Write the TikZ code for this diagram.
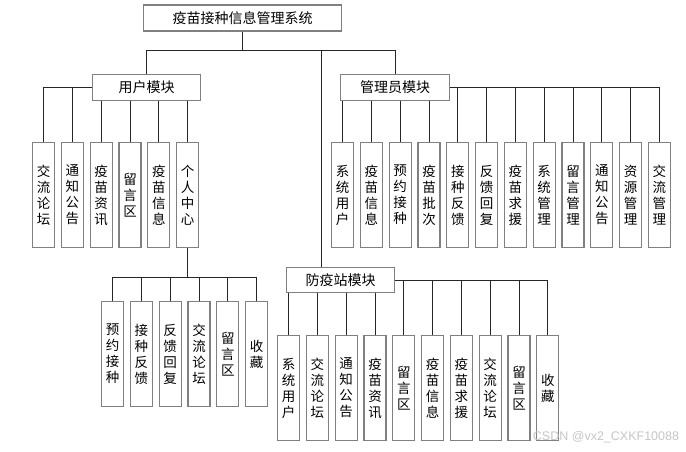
\documentclass[tikz,border=0pt]{standalone}
\usepackage{fontspec}
\setmainfont{Noto Sans CJK SC}
\newfontfamily\markfont{Liberation Sans}
\usetikzlibrary{positioning}

\tikzset{
  box/.style={draw=gray, line width=1.2pt, fill=white, inner sep=0pt},
  head/.style={box, minimum height=26pt, font=\fontsize{14}{16}\selectfont},
  leaf/.style={box, minimum width=22pt, minimum height=105pt, align=center, font=\fontsize{13.5}{16}\selectfont},
  link/.style={line width=0.9pt, black!85}
}

\begin{document}
\begin{tikzpicture}[x=1pt, y=-1pt, node distance=5.6pt]
\useasboundingbox (0,0) rectangle (686,451);

% top and modules
\node[head, minimum width=198pt] (sys) at (242.5,18) {疫苗接种信息管理系统};
\node[head, minimum width=108pt] (user) at (146.5,87.5) {用户模块};
\node[head, minimum width=109pt] (admin) at (395,87.5) {管理员模块};
\node[head, minimum width=108pt, minimum height=25pt] (zhan) at (340.5,280) {防疫站模块};
\coordinate (split) at (242.5,50);
\coordinate (drop) at (321,50);

% user leaves
\node[leaf, anchor=north west] (u1) at (32,142) {交\\流\\论\\坛};
\node[leaf, right=of u1] (u2) {通\\知\\公\\告};
\node[leaf, right=of u2] (u3) {疫\\苗\\资\\讯};
\node[leaf, right=of u3] (u4) {留\\言\\区};
\node[leaf, right=of u4] (u5) {疫\\苗\\信\\息};
\node[leaf, right=of u5] (u6) {个\\人\\中\\心};
\coordinate (pbus) at ([yshift=-29pt]u6.south);

% personal centre leaves
\node[leaf, anchor=north west] (p1) at (101,301) {预\\约\\接\\种};
\node[leaf, right=of p1] (p2) {接\\种\\反\\馈};
\node[leaf, right=of p2] (p3) {反\\馈\\回\\复};
\node[leaf, right=of p3] (p4) {交\\流\\论\\坛};
\node[leaf, right=of p4] (p5) {留\\言\\区};
\node[leaf, right=of p5] (p6) {收\\藏};

% admin leaves
\node[leaf, anchor=north west] (a1) at (331,142) {系\\统\\用\\户};
\node[leaf, right=of a1] (a2) {疫\\苗\\信\\息};
\node[leaf, right=of a2] (a3) {预\\约\\接\\种};
\node[leaf, right=of a3] (a4) {疫\\苗\\批\\次};
\node[leaf, right=of a4] (a5) {接\\种\\反\\馈};
\node[leaf, right=of a5] (a6) {反\\馈\\回\\复};
\node[leaf, right=of a6] (a7) {疫\\苗\\求\\援};
\node[leaf, right=of a7] (a8) {系\\统\\管\\理};
\node[leaf, right=of a8] (a9) {留\\言\\管\\理};
\node[leaf, right=of a9] (a10) {通\\知\\公\\告};
\node[leaf, right=of a10] (a11) {资\\源\\管\\理};
\node[leaf, right=of a11] (a12) {交\\流\\管\\理};

% station leaves
\node[leaf, anchor=north west] (z1) at (277,335) {系\\统\\用\\户};
\node[leaf, right=of z1] (z2) {交\\流\\论\\坛};
\node[leaf, right=of z2] (z3) {通\\知\\公\\告};
\node[leaf, right=of z3] (z4) {疫\\苗\\资\\讯};
\node[leaf, right=of z4] (z5) {留\\言\\区};
\node[leaf, right=of z5] (z6) {疫\\苗\\信\\息};
\node[leaf, right=of z6] (z7) {疫\\苗\\求\\援};
\node[leaf, right=of z7] (z8) {交\\流\\论\\坛};
\node[leaf, right=of z8] (z9) {留\\言\\区};
\node[leaf, right=of z9] (z10) {收\\藏};

% trunk
\draw[link] (sys) -- (split);
\draw[link] (split) -| (user.north);
\draw[link] (split) -| (admin.north);
\draw[link] (drop) -- (drop |- zhan.north);

% user links
\draw[link] (user.west) -| (u1.north);
\draw[link] (user.west) -| (u2.north);
\draw[link] (user.south -| u3.north) -- (u3.north);
\draw[link] (user.south -| u4.north) -- (u4.north);
\draw[link] (user.south -| u5.north) -- (u5.north);
\draw[link] (user.south -| u6.north) -- (u6.north);

% personal centre links
\draw[link] (u6.south) -- (pbus);
\draw[link] (pbus) -| (p1.north);
\draw[link] (pbus) -| (p2.north);
\draw[link] (pbus) -| (p3.north);
\draw[link] (pbus) -| (p4.north);
\draw[link] (pbus) -| (p5.north);
\draw[link] (pbus) -| (p6.north);

% admin links
\draw[link] (admin.south -| a1.north) -- (a1.north);
\draw[link] (admin.south -| a2.north) -- (a2.north);
\draw[link] (admin.south -| a3.north) -- (a3.north);
\draw[link] (admin.south -| a4.north) -- (a4.north);
\draw[link] (admin.east) -| (a5.north);
\draw[link] (admin.east) -| (a6.north);
\draw[link] (admin.east) -| (a7.north);
\draw[link] (admin.east) -| (a8.north);
\draw[link] (admin.east) -| (a9.north);
\draw[link] (admin.east) -| (a10.north);
\draw[link] (admin.east) -| (a11.north);
\draw[link] (admin.east) -| (a12.north);

% station links
\draw[link] (zhan.south -| z1.north) -- (z1.north);
\draw[link] (zhan.south -| z2.north) -- (z2.north);
\draw[link] (zhan.south -| z3.north) -- (z3.north);
\draw[link] (zhan.south -| z4.north) -- (z4.north);
\draw[link] (zhan.east) -| (z5.north);
\draw[link] (zhan.east) -| (z6.north);
\draw[link] (zhan.east) -| (z7.north);
\draw[link] (zhan.east) -| (z8.north);
\draw[link] (zhan.east) -| (z9.north);
\draw[link] (zhan.east) -| (z10.north);

% watermark
\node[text=gray!45, font=\markfont\fontsize{12.5}{14}\selectfont] (mark) at (606,437) {CSDN @vx2\_CXKF10088};
\end{tikzpicture}
\end{document}
